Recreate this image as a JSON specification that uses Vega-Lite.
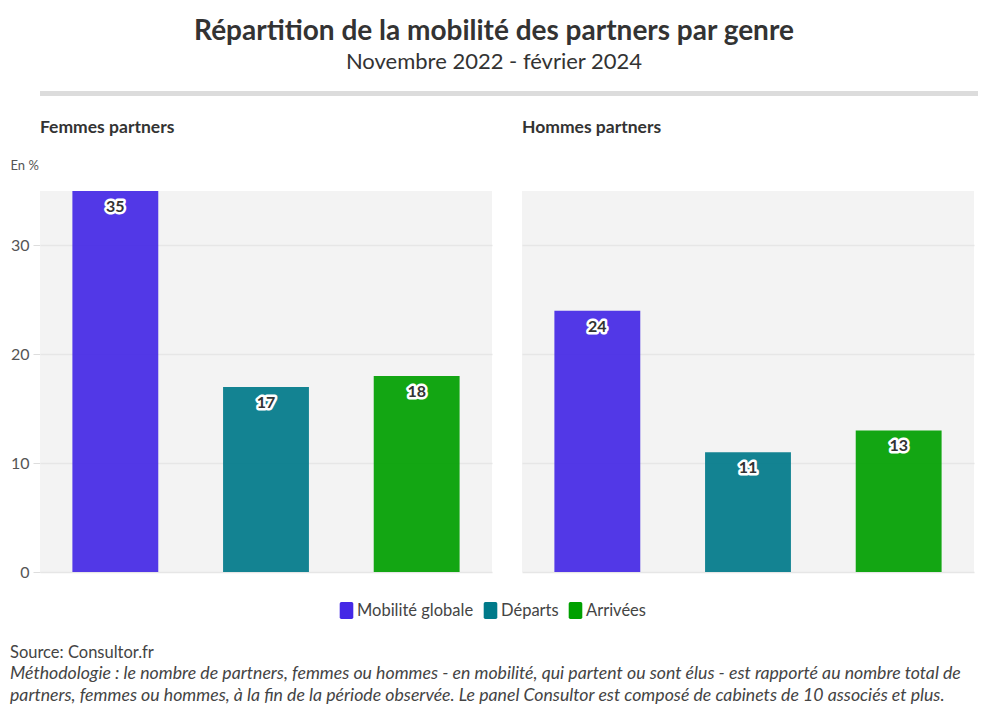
{
  "$schema": "https://vega.github.io/schema/vega-lite/v6.json",
  "background": "white",
  "padding": {"left": 10, "right": 12, "top": 18, "bottom": 5},
  "config": {
    "font": "Lato",
    "view": {"stroke": null},
    "concat": {"spacing": 22},
    "legend": {"layout": {"bottom": {"anchor": "middle"}}}
  },
  "title": {
    "text": "Répartition de la mobilité des partners par genre",
    "subtitle": "Novembre 2022 - février 2024",
    "fontSize": 28,
    "fontWeight": "bold",
    "color": "#333333",
    "subtitleFontSize": 22,
    "subtitleColor": "#333333",
    "subtitlePadding": 6,
    "anchor": "middle",
    "frame": "bounds",
    "offset": 18
  },
  "resolve": {"legend": {"color": "independent"}, "scale": {"color": "independent"}},
  "vconcat": [
    {
      "width": 938,
      "height": 5,
      "data": {"values": [{"separator": "rule"}]},
      "mark": {"type": "rect", "color": "#dcdcdc"},
      "encoding": {}
    },
    {
      "data": {
        "values": [
          {"genre": "Femmes partners", "type": "Mobilité globale", "value": 35},
          {"genre": "Femmes partners", "type": "Départs", "value": 17},
          {"genre": "Femmes partners", "type": "Arrivées", "value": 18},
          {"genre": "Hommes partners", "type": "Mobilité globale", "value": 24},
          {"genre": "Hommes partners", "type": "Départs", "value": 11},
          {"genre": "Hommes partners", "type": "Arrivées", "value": 13}
        ]
      },
      "title": {
        "text": "Source: Consultor.fr",
        "subtitle": [
          "Méthodologie : le nombre de partners, femmes ou hommes - en mobilité, qui partent ou sont élus - est rapporté au nombre total de",
          "partners, femmes ou hommes, à la fin de la période observée. Le panel Consultor est composé de cabinets de 10 associés et plus."
        ],
        "orient": "bottom",
        "anchor": "start",
        "fontSize": 16.5,
        "fontWeight": "normal",
        "color": "#444444",
        "subtitleFontSize": 17.7,
        "subtitleFontStyle": "italic",
        "subtitleColor": "#444444",
        "subtitlePadding": 3,
        "subtitleLineHeight": 22,
        "offset": 26
      },
      "facet": {
        "column": {
          "field": "genre",
          "type": "nominal",
          "sort": ["Femmes partners", "Hommes partners"],
          "header": {
            "title": null,
            "labelAnchor": "start",
            "labelAlign": "left",
            "labelFontSize": 17.5,
            "labelFontWeight": "bold",
            "labelColor": "#333333",
            "labelPadding": 55
          }
        }
      },
      "spacing": 30,
      "spec": {
        "width": 452,
        "height": 381,
        "view": {"fill": "#f3f3f3", "stroke": null},
        "encoding": {
          "x": {
            "field": "type",
            "type": "nominal",
            "sort": ["Mobilité globale", "Départs", "Arrivées"],
            "scale": {"paddingInner": 0.43, "paddingOuter": 0.215},
            "axis": null
          },
          "y": {
            "field": "value",
            "type": "quantitative",
            "scale": {"domain": [0, 35], "nice": false},
            "axis": {
              "values": [0, 10, 20, 30],
              "title": "En %",
              "titleAngle": 0,
              "titleAlign": "left",
              "titleBaseline": "middle",
              "titleX": -30,
              "titleY": -26,
              "titleFontSize": 13,
              "titleFontWeight": "normal",
              "titleColor": "#555555",
              "labelFontSize": 16,
              "labelColor": "#555555",
              "labelPadding": 4,
              "tickColor": "#dddddd",
              "tickSize": 7,
              "domainColor": "#e6e6e6",
              "gridColor": "#e6e6e6",
              "gridWidth": 1.5
            }
          }
        },
        "layer": [
          {
            "mark": {"type": "bar", "opacity": 0.92},
            "encoding": {
              "color": {
                "field": "type",
                "type": "nominal",
                "sort": ["Mobilité globale", "Départs", "Arrivées"],
                "scale": {
                  "domain": ["Mobilité globale", "Départs", "Arrivées"],
                  "range": ["#4428e6", "#007a8a", "#00a000"]
                },
                "legend": {
                  "title": null,
                  "orient": "bottom",
                  "direction": "horizontal",
                  "labelFontSize": 16.5,
                  "labelColor": "#444444",
                  "symbolType": "M -0.6 -1 L 0.6 -1 Q 0.8 -1 0.8 -0.8 L 0.8 0.8 Q 0.8 1 0.6 1 L -0.6 1 Q -0.8 1 -0.8 0.8 L -0.8 -0.8 Q -0.8 -1 -0.6 -1 Z",
                  "symbolSize": 289,
                  "symbolOpacity": 1,
                  "symbolStrokeWidth": 0,
                  "labelOffset": 2,
                  "columnPadding": 8,
                  "offset": 22
                }
              }
            }
          },
          {
            "mark": {"type": "text", "baseline": "middle", "dy": 16, "fontSize": 16, "fontWeight": "bold", "stroke": "white", "strokeWidth": 5, "strokeJoin": "round", "fill": "white"},
            "encoding": {"text": {"field": "value", "type": "quantitative"}}
          },
          {
            "mark": {"type": "text", "baseline": "middle", "dy": 16, "fontSize": 16, "fontWeight": "bold", "fill": "#333333"},
            "encoding": {"text": {"field": "value", "type": "quantitative"}}
          }
        ]
      }
    }
  ]
}
